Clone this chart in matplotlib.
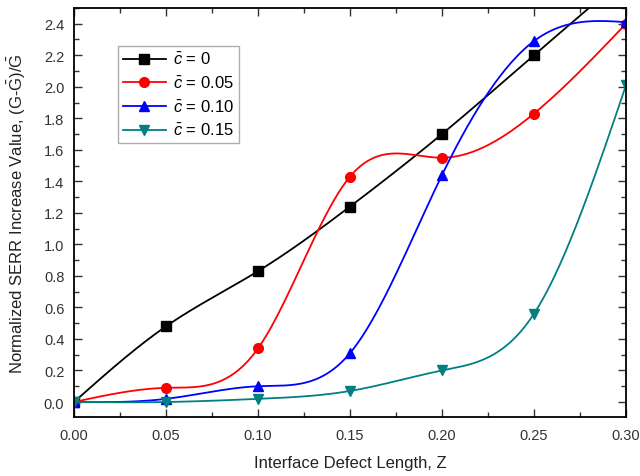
import numpy as np
import matplotlib
matplotlib.use("Agg")
import matplotlib.pyplot as plt
from matplotlib.ticker import MultipleLocator

plt.rcParams['font.family'] = ['Liberation Sans', 'DejaVu Sans']
plt.rcParams['mathtext.fontset'] = 'custom'
plt.rcParams['mathtext.rm'] = 'Liberation Sans'
plt.rcParams['mathtext.it'] = 'Liberation Sans:italic'

defect_length = [0.00, 0.05, 0.10, 0.15, 0.20, 0.25, 0.30]
serr_c000 = [0.00, 0.48, 0.83, 1.24, 1.70, 2.20, 2.70]
serr_c005 = [0.00, 0.09, 0.34, 1.43, 1.55, 1.83, 2.40]
serr_c010 = [0.00, 0.02, 0.10, 0.31, 1.44, 2.29, 2.41]
serr_c015 = [0.00, 0.00, 0.02, 0.07, 0.20, 0.56, 2.01]

series_labels = [r'$\bar{c}$ = 0', r'$\bar{c}$ = 0.05', r'$\bar{c}$ = 0.10', r'$\bar{c}$ = 0.15']


def natural_spline(x, y, n=300):
    x = np.asarray(x, float)
    y = np.asarray(y, float)
    k = len(x)
    h = np.diff(x)
    A = np.zeros((k, k))
    b = np.zeros(k)
    A[0, 0] = A[-1, -1] = 1.0
    for i in range(1, k - 1):
        A[i, i - 1] = h[i - 1]
        A[i, i] = 2 * (h[i - 1] + h[i])
        A[i, i + 1] = h[i]
        b[i] = 3 * ((y[i + 1] - y[i]) / h[i] - (y[i] - y[i - 1]) / h[i - 1])
    c = np.linalg.solve(A, b)
    xs = np.linspace(x[0], x[-1], n)
    idx = np.clip(np.searchsorted(x, xs) - 1, 0, k - 2)
    dx = xs - x[idx]
    hi = h[idx]
    bi = (y[idx + 1] - y[idx]) / hi - hi * (2 * c[idx] + c[idx + 1]) / 3
    di = (c[idx + 1] - c[idx]) / (3 * hi)
    ys = y[idx] + bi * dx + c[idx] * dx ** 2 + di * dx ** 3
    return xs, ys


fig = plt.figure(figsize=(6.4, 4.77), dpi=100)
ax = fig.add_axes([0.1156, 0.1237, 0.8625, 0.8575])

styles = [
    ('black', 's', 6.5),
    ('#ff0000', 'o', 7),
    ('#0000ff', '^', 7.5),
    ('#008080', 'v', 7.5),
]
all_series = [serr_c000, serr_c005, serr_c010, serr_c015]

for vals, (col, mk, ms), lab in zip(all_series, styles, series_labels):
    xs, ys = natural_spline(defect_length, vals)
    ax.plot(xs, ys, color=col, lw=1.3)
    ax.plot(defect_length, vals, linestyle='none', marker=mk, ms=ms, color=col)
    ax.plot([], [], color=col, lw=1.3, marker=mk, ms=ms, label=lab)

ax.set_xlim(0, 0.30)
ax.set_ylim(-0.095, 2.5)
ax.xaxis.set_major_locator(MultipleLocator(0.05))
ax.xaxis.set_minor_locator(MultipleLocator(0.025))
ax.yaxis.set_major_locator(MultipleLocator(0.2))
ax.yaxis.set_minor_locator(MultipleLocator(0.1))
ax.xaxis.set_major_formatter(plt.FuncFormatter(lambda v, p: f'{v:.2f}'))
ax.yaxis.set_major_formatter(plt.FuncFormatter(lambda v, p: f'{v:.1f}'))
ax.tick_params(which='both', direction='in', top=True, right=True, labelsize=10.5, colors='#333333')
ax.tick_params(which='major', length=6, width=1)
ax.tick_params(which='minor', length=3.5, width=1)
ax.tick_params(axis='x', which='major', pad=8)
ax.tick_params(axis='y', which='major', pad=7)
for s in ax.spines.values():
    s.set_linewidth(1.3)

ax.set_xlabel(r'Interface Defect Length, Z', fontsize=12, color='#222222', labelpad=9)
ax.set_ylabel(r'Normalized SERR Increase Value, (G-$\bar{\mathrm{G}}$)/$\bar{\mathrm{G}}$',
              fontsize=12, color='#222222', labelpad=11)

leg = ax.legend(loc='upper left', bbox_to_anchor=(0.064, 0.927), fontsize=12, frameon=True,
                fancybox=False, edgecolor='#999999', handlelength=2.6, handletextpad=0.4,
                borderpad=0.3, labelspacing=0.45)
leg.get_frame().set_linewidth(1.0)

fig.savefig('out.png', dpi=100)
